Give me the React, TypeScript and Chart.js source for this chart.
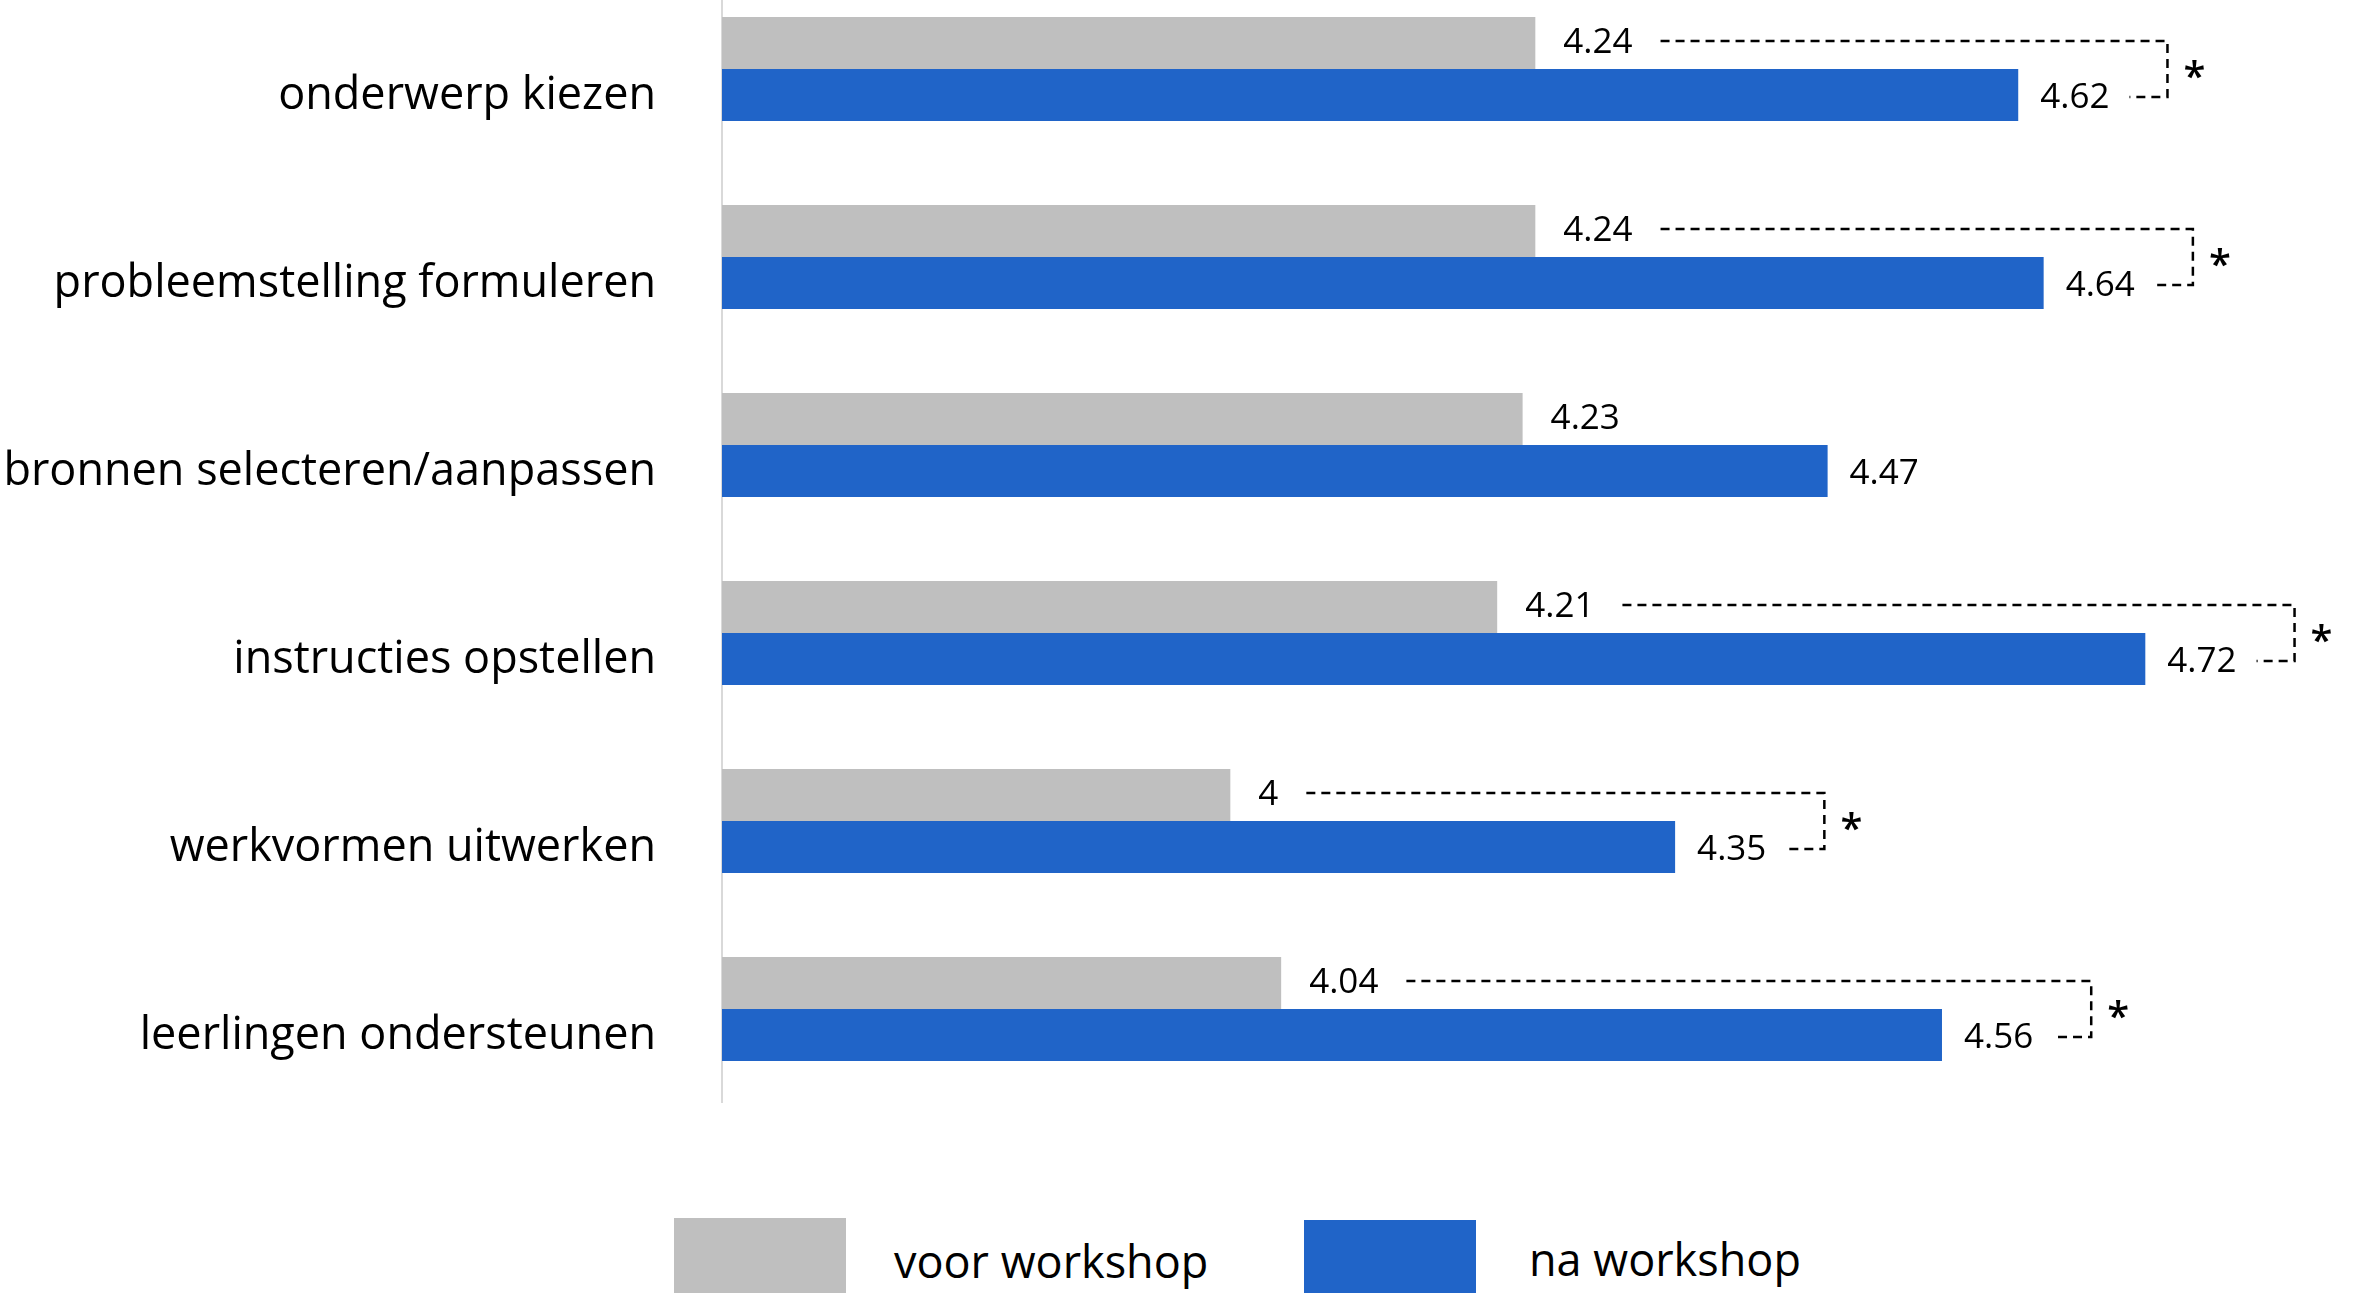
import React, { useEffect, useRef } from "react";
import { Chart, registerables } from "chart.js";

Chart.register(...registerables);

const categories = [
  "onderwerp kiezen",
  "probleemstelling formuleren",
  "bronnen selecteren/aanpassen",
  "instructies opstellen",
  "werkvormen uitwerken",
  "leerlingen ondersteunen",
];
const voorWorkshop = [4.24, 4.24, 4.23, 4.21, 4, 4.04];
const naWorkshop = [4.62, 4.64, 4.47, 4.72, 4.35, 4.56];
const significant = [true, true, false, true, true, true];
const seriesNames = ["voor workshop", "na workshop"];
const seriesColors = ["#BFBFBF", "#2064C8"];
const xMin = 3.6;
const xMax = 4.885;

const FONT = "'Open Sans', 'Noto Sans', sans-serif";

const annotPlugin = {
  id: "annotPlugin",
  afterDatasetsDraw(chart: any) {
    const ctx = chart.ctx;
    const m0 = chart.getDatasetMeta(0);
    const m1 = chart.getDatasetMeta(1);
    ctx.save();
    categories.forEach((_, i) => {
      const g = m0.data[i];
      const b = m1.data[i];
      const gl = String(voorWorkshop[i]);
      const bl = String(naWorkshop[i]);
      ctx.font = `35px ${FONT}`;
      ctx.fillStyle = "#000";
      ctx.textBaseline = "middle";
      ctx.textAlign = "left";
      const gx = g.x + 28;
      const bx = b.x + 22;
      ctx.fillText(gl, gx, g.y);
      ctx.fillText(bl, bx, b.y + 3);
      if (significant[i]) {
        const x0 = gx + ctx.measureText(gl).width + 28;
        const xr = bx + ctx.measureText(bl).width + 58;
        const yt = g.y - 2;
        const yb = b.y + 2;
        ctx.beginPath();
        ctx.setLineDash([9, 6]);
        ctx.lineWidth = 2.5;
        ctx.strokeStyle = "#000";
        ctx.moveTo(x0, yt);
        ctx.lineTo(xr, yt);
        ctx.lineTo(xr, yb);
        ctx.lineTo(xr - 38, yb);
        ctx.stroke();
        ctx.setLineDash([]);
        ctx.font = `600 40px ${FONT}`;
        ctx.textAlign = "center";
        ctx.textBaseline = "alphabetic";
        ctx.fillText("*", xr + 27, (yt + yb) / 2 + 21);
      }
    });
    ctx.restore();
  },
};

export default function App() {
  const canvasRef = useRef<HTMLCanvasElement | null>(null);

  useEffect(() => {
    const canvas = canvasRef.current;
    if (!canvas) return;
    const chart = new Chart(canvas, {
      type: "bar",
      data: {
        labels: categories,
        datasets: [
          {
            label: seriesNames[0],
            data: voorWorkshop,
            backgroundColor: seriesColors[0],
            categoryPercentage: 0.553,
            barPercentage: 1,
          },
          {
            label: seriesNames[1],
            data: naWorkshop,
            backgroundColor: seriesColors[1],
            categoryPercentage: 0.553,
            barPercentage: 1,
          },
        ],
      },
      options: {
        indexAxis: "y",
        animation: false,
        responsive: false,
        devicePixelRatio: 1,
        layout: { padding: 0 },
        plugins: {
          legend: { display: false },
          tooltip: { enabled: false },
        },
        scales: {
          x: {
            display: false,
            min: xMin,
            max: xMax,
          },
          y: {
            grid: { display: false, drawTicks: false },
            border: { display: true, color: "#D9D9D9", width: 2 },
            ticks: {
              color: "#000",
              font: { family: FONT, size: 45 },
              padding: 66,
              labelOffset: 27,
              autoSkip: false,
            },
            afterFit: (scale: any) => {
              scale.width = 722;
              scale.paddingTop = 0;
              scale.paddingBottom = 0;
            },
          },
        },
      },
      plugins: [annotPlugin],
    });
    return () => chart.destroy();
  }, []);

  const legendText = (left: number, top: number, text: string) => (
    <span
      style={{
        position: "absolute",
        left,
        top,
        fontFamily: FONT,
        fontSize: 45,
        lineHeight: 1,
        color: "#000",
        whiteSpace: "nowrap",
      }}
    >
      {text}
    </span>
  );

  return (
    <div
      style={{
        position: "absolute",
        left: 0,
        top: 0,
        width: 2355,
        height: 1293,
        overflow: "hidden",
        background: "#fff",
      }}
    >
      <canvas
        ref={canvasRef}
        width={2355}
        height={1128}
        style={{ position: "absolute", left: 0, top: -25, width: 2355, height: 1128 }}
      />
      <div style={{ position: "absolute", left: 674, top: 1218, width: 172, height: 100, background: seriesColors[0] }} />
      {legendText(894, 1238, seriesNames[0])}
      <div style={{ position: "absolute", left: 1304, top: 1220, width: 172, height: 100, background: seriesColors[1] }} />
      {legendText(1529, 1236, seriesNames[1])}
    </div>
  );
}
